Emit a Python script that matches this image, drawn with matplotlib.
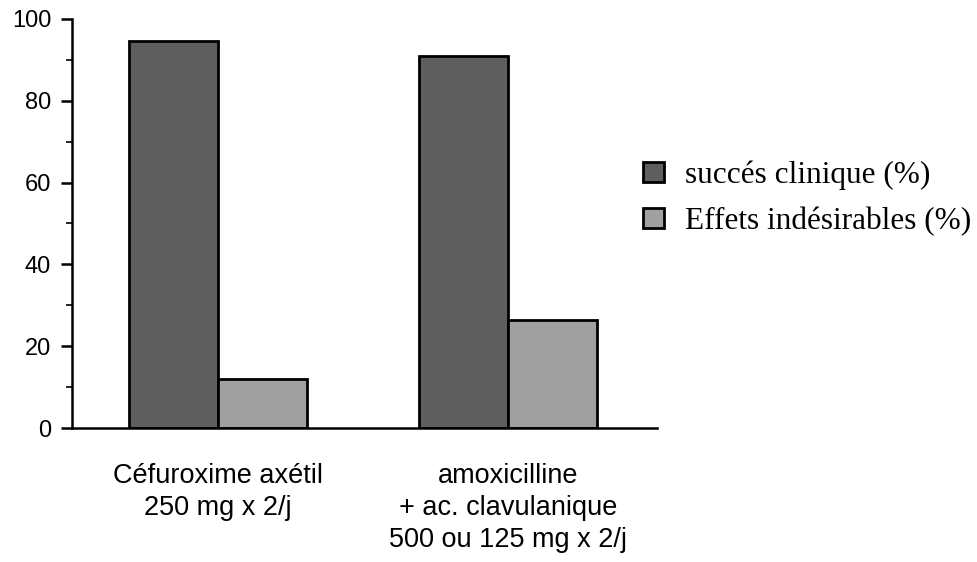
import matplotlib
matplotlib.use("Agg")
import matplotlib.pyplot as plt
import numpy as np

categories = ["Céfuroxime axétil\n250 mg x 2/j",
              "amoxicilline\n+ ac. clavulanique\n500 ou 125 mg x 2/j"]
succes = [94.5, 91]
effets = [12, 26.5]
labels = ["succés clinique (%)", "Effets indésirables (%)"]

dark = "#5e5e5e"
light = "#a0a0a0"

fig = plt.figure(figsize=(9.78, 5.62), dpi=100)
ax = fig.add_axes([0.0736, 0.2384, 0.598, 0.728])

x = np.arange(len(categories))
w = 0.307
b1 = ax.bar(x - w / 2, succes, w, color=dark, edgecolor="black", linewidth=2,
            label=labels[0])
b2 = ax.bar(x + w / 2, effets, w, color=light, edgecolor="black", linewidth=2,
            label=labels[1])

ax.set_xlim(-0.503, 1.514)
ax.set_ylim(0, 100)
for s in ["top", "right"]:
    ax.spines[s].set_visible(False)
ax.spines["left"].set_linewidth(1.8)
ax.spines["bottom"].set_linewidth(1.8)

ax.set_yticks([0, 20, 40, 60, 80, 100])
ax.set_yticks([10, 30, 50, 70, 90], minor=True)
ax.tick_params(axis="y", which="major", length=8, width=1.8, pad=7)
ax.tick_params(axis="y", which="minor", length=4, width=1.2)
ax.set_yticklabels(["0", "20", "40", "60", "80", "100"],
                   fontfamily="Liberation Sans", fontsize=17)

ax.set_xticks(x)
ax.set_xticklabels(categories, fontfamily="Liberation Sans", fontsize=19.5,
                   linespacing=1.3)
ax.tick_params(axis="x", length=0, pad=25)

fig.legend(handles=[b1, b2], loc="center left",
           bbox_to_anchor=(0.645, 0.647), frameon=False,
           prop={"family": "Liberation Serif", "size": 22.5},
           handlelength=0.65, handleheight=0.6, handletextpad=0.7,
           labelspacing=0.55, borderaxespad=0)

fig.savefig("out.png", dpi=100)
